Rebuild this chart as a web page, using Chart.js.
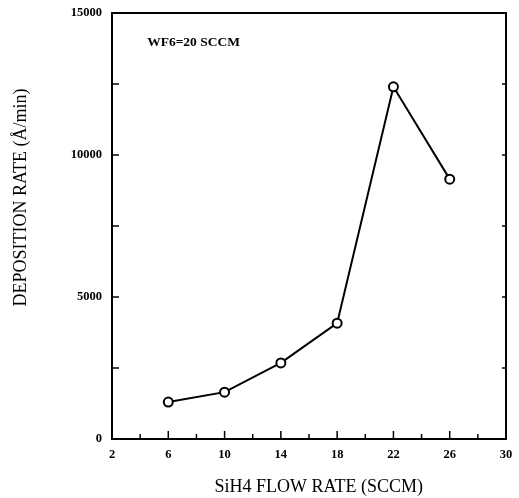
<!DOCTYPE html>
<html>
<head>
<meta charset="utf-8">
<script src="https://cdn.jsdelivr.net/npm/chart.js@4/dist/chart.umd.min.js"></script>
<style>
  html, body { margin: 0; padding: 0; background: #fff; }
  #wrap { width: 519px; height: 498px; }
</style>
</head>
<body>
<div id="wrap"><canvas id="depChart" width="519" height="498"></canvas></div>
<script>
// SiH4 flow rate (SCCM) vs deposition rate (A/min), WF6 = 20 SCCM
const flowRates = [6, 10, 14, 18, 22, 26];
const depRates = [1300, 1650, 2680, 4080, 12400, 9150];
const xTickValues = [2, 6, 10, 14, 18, 22, 26, 30];
const yTickValues = [0, 5000, 10000, 15000];
const noteText = 'WF6=20 SCCM';
const xTitle = 'SiH4 FLOW RATE (SCCM)';
const yTitle = 'DEPOSITION RATE (Å/min)';

const serif = '"Liberation Serif", "DejaVu Serif", serif';

// inward ticks, frame, axis titles and note
const frameTicks = {
  id: 'frameTicks',
  afterDraw(chart) {
    const { ctx, chartArea: a, scales: { x, y } } = chart;
    ctx.save();
    ctx.strokeStyle = '#000';
    ctx.lineWidth = 2;
    ctx.strokeRect(a.left, a.top, a.right - a.left, a.bottom - a.top);
    ctx.lineWidth = 1.5;
    for (let v = 2; v <= 30; v += 2) {
      const px = x.getPixelForValue(v);
      const len = xTickValues.includes(v) ? 8 : 5;
      ctx.beginPath();
      ctx.moveTo(px, a.bottom);
      ctx.lineTo(px, a.bottom - len);
      ctx.stroke();
    }
    for (let v = 0; v <= 15000; v += 2500) {
      const py = y.getPixelForValue(v);
      ctx.beginPath();
      ctx.moveTo(a.left, py);
      ctx.lineTo(a.left + 7, py);
      ctx.moveTo(a.right, py);
      ctx.lineTo(a.right - 4, py);
      ctx.stroke();
    }
    ctx.fillStyle = '#000';
    ctx.font = 'bold 13.5px ' + serif;
    ctx.textBaseline = 'middle';
    ctx.fillText(noteText, x.getPixelForValue(4.5), y.getPixelForValue(13950));

    // axis titles
    ctx.font = '18px ' + serif;
    ctx.textAlign = 'center';
    ctx.fillText(xTitle, x.getPixelForValue(2.7) + (a.right - a.left) / 2, 487);
    ctx.translate(21, y.getPixelForValue(8500));
    ctx.rotate(-Math.PI / 2);
    ctx.fillText(yTitle, 0, 0);
    ctx.restore();
  }
};

new Chart(document.getElementById('depChart').getContext('2d'), {
  type: 'scatter',
  data: {
    datasets: [{
      label: 'Deposition rate',
      data: flowRates.map((f, i) => ({ x: f, y: depRates[i] })),
      showLine: true,
      borderColor: '#000',
      borderWidth: 2,
      pointRadius: 4.5,
      pointBorderWidth: 2,
      pointBackgroundColor: '#fff',
      pointBorderColor: '#000'
    }]
  },
  options: {
    responsive: false,
    animation: false,
    layout: { padding: { top: 13, right: 13, left: 0, bottom: 0 } },
    plugins: {
      legend: { display: false },
      tooltip: { enabled: false }
    },
    scales: {
      x: {
        type: 'linear',
        min: 2,
        max: 30,
        afterBuildTicks: s => { s.ticks = xTickValues.map(v => ({ value: v })); },
        afterFit: s => { s.height = 59; s.paddingLeft = 0; s.paddingRight = 0; },
        grid: { display: false, drawTicks: false },
        border: { display: false },
        ticks: {
          color: '#000',
          padding: 8,
          maxRotation: 0,
          callback: v => String(v),
          font: { family: serif, size: 12.5, weight: 'bold' }
        }
      },
      y: {
        type: 'linear',
        min: 0,
        max: 15000,
        afterBuildTicks: s => { s.ticks = yTickValues.map(v => ({ value: v })); },
        afterFit: s => { s.width = 112; s.paddingTop = 0; s.paddingBottom = 0; },
        grid: { display: false, drawTicks: false },
        border: { display: false },
        ticks: {
          color: '#000',
          padding: 10,
          callback: v => String(v),
          font: { family: serif, size: 12.5, weight: 'bold' }
        }
      }
    }
  },
  plugins: [frameTicks]
});
</script>
</body>
</html>
